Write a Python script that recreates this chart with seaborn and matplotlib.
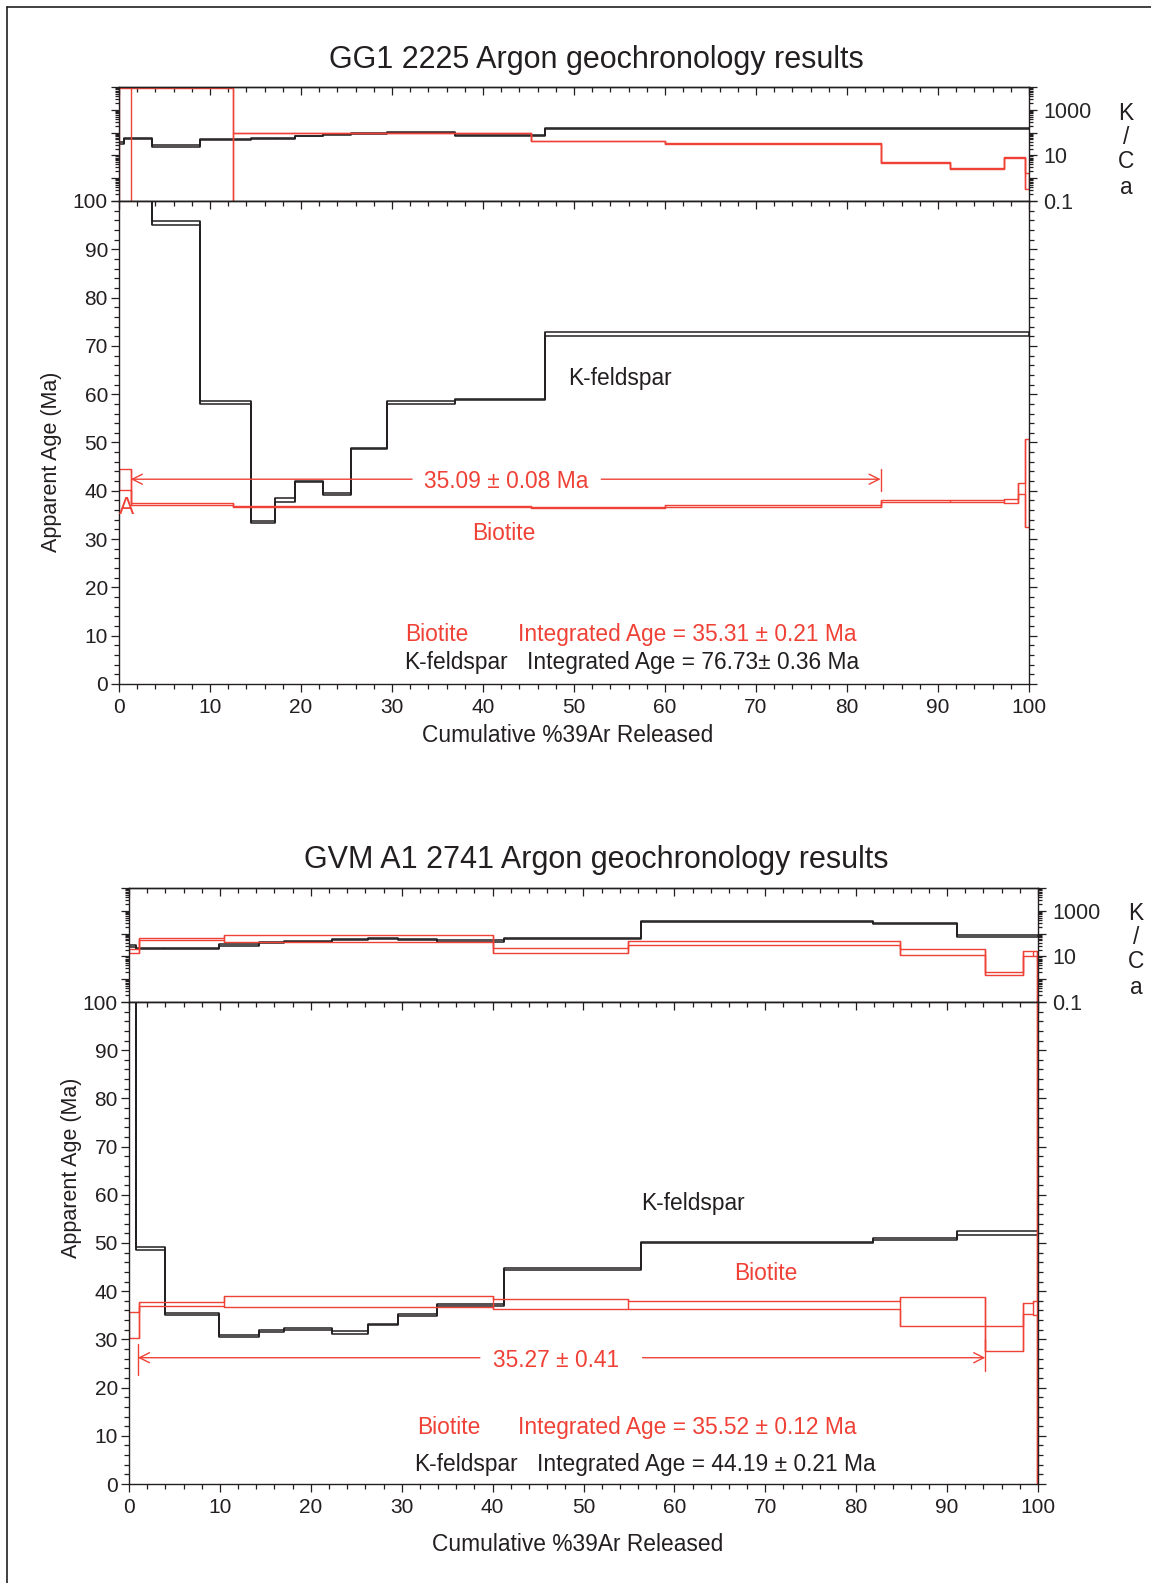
import numpy as np
import matplotlib
matplotlib.use('Agg')
import matplotlib.pyplot as plt
from matplotlib.lines import Line2D
from matplotlib.ticker import MultipleLocator, LogLocator, FuncFormatter, NullFormatter
import seaborn as sns

sns.set_style('white')
plt.rcParams['font.family'] = ['Liberation Sans', 'DejaVu Sans']

W, H = 1151, 1583
RED = '#EF4136'
BLACK = '#231F20'
FS = 16.4

# ---- GG1 2225 ----
kf1_edges = [0, 0.5, 3.6, 8.9, 14.5, 17.1, 19.3, 22.4, 25.5, 29.4, 36.9, 46.8, 100]
kf1_age = [130, 130, 95.5, 58.3, 33.55, 38.1, 41.9, 39.3, 48.8, 58.3, 58.85, 72.5]
kf1_err = [1, 1, 0.45, 0.35, 0.2, 0.4, 0.15, 0.15, 0.15, 0.3, 0.15, 0.45]
kf1_kca = [36, 55, 26, 50, 57, 57, 71, 84, 92, 98, 78, 152]
kf1_kca_err = [3, 3, 1.5, 2.5, 3, 3, 3.5, 4, 4, 4, 4, 6]

bt1_edges = [0, 1.3, 12.5, 45.3, 60.0, 83.7, 91.3, 97.2, 98.8, 99.6, 100]
bt1_age = [42.35, 37.25, 36.8, 36.5, 36.85, 37.85, 37.85, 37.9, 40.5, 41.6]
bt1_err = [2.15, 0.27, 0.15, 0.1, 0.15, 0.2, 0.2, 0.35, 1.2, 9.1]
bt1_kca = [4700, 4700, 98, 43, 33, 5.0, 2.6, 8.1, 8.1, 1.0]
bt1_kca_err = [4700, 4700, 3, 2, 1.5, 0.2, 0.1, 0.3, 0.3, 0.65]

# ---- GVM A1 2741 ----
kf2_edges = [0, 0.74, 4.0, 9.9, 14.3, 17.1, 22.3, 26.3, 29.6, 33.9, 41.2, 56.3, 81.9, 91.1, 100]
kf2_age = [130, 48.85, 35.25, 30.7, 31.8, 32.2, 31.45, 33.0, 35.1, 37.2, 44.55, 50.05, 50.9, 52.1]
kf2_err = [1, 0.35, 0.25, 0.2, 0.2, 0.17, 0.25, 0.1, 0.2, 0.2, 0.25, 0.15, 0.2, 0.4]
kf2_kca = [30, 23, 23, 32, 40, 44, 53, 63, 53, 48, 63, 338, 268, 79]
kf2_kca_err = [3, 1.5, 1.5, 2, 2, 2, 3, 4, 3, 3, 4, 15, 15, 5]

bt2_edges = [0, 1.07, 10.5, 40.0, 54.9, 84.8, 94.2, 98.3, 99.4, 99.85, 100]
bt2_age = [33.0, 37.35, 37.9, 37.35, 37.2, 35.7, 30.15, 36.4, 36.5, 40]
bt2_err = [2.7, 0.35, 1.2, 1.05, 0.8, 3.0, 2.55, 1.2, 1.5, 100]
bt2_kca = [17, 58, 66, 18, 40, 16, 1.85, 13.8, 13.8, 3]
bt2_kca_err = [3.5, 5, 21, 4.5, 8, 4.5, 0.25, 3.6, 3.6, 4]


def frac(l, t, r, b):
    return [l / W, 1 - b / H, (r - l) / W, (b - t) / H]


def spectrum(ax, edges, vals, errs, color, lw=1.0, log=False):
    vals = np.asarray(vals, float)
    errs = np.asarray(errs, float)
    lo, hi = vals - errs, vals + errs
    if log:
        lo = np.maximum(lo, 1e-4)
    x = np.asarray(edges, float)
    for y in (hi, lo):
        sns.lineplot(x=x, y=np.append(y, y[-1]), drawstyle='steps-post', color=color,
                     lw=lw, estimator=None, sort=False, ax=ax)
    # box edges: closed ends and full verticals between steps
    ymin = np.minimum(np.append(lo[0], lo), np.append(lo, lo[-1]))
    ymax = np.maximum(np.append(hi[0], hi), np.append(hi, hi[-1]))
    ax.vlines(x, ymin, ymax, color=color, lw=lw)


def style_common(ax):
    for s in ax.spines.values():
        s.set_linewidth(1.0)
        s.set_color(BLACK)
    ax.set_xlim(0, 100)
    sec = ax.secondary_xaxis('top')
    sec.xaxis.set_major_locator(MultipleLocator(10))
    sec.xaxis.set_minor_locator(MultipleLocator(2))
    sec.tick_params(which='both', direction='in', labeltop=False, width=0.9, color=BLACK)
    sec.tick_params(which='major', length=6)
    sec.tick_params(which='minor', length=3.5)
    sec.spines['top'].set_linewidth(1.0)


def age_axes(ax):
    style_common(ax)
    ax.set_ylim(0, 100)
    ax.xaxis.set_major_locator(MultipleLocator(10))
    ax.xaxis.set_minor_locator(MultipleLocator(2))
    ax.yaxis.set_major_locator(MultipleLocator(10))
    ax.yaxis.set_minor_locator(MultipleLocator(2))
    ax.tick_params(which='both', direction='out', left=True, right=True, bottom=True,
                   top=False, labelsize=15, width=0.9, color=BLACK, labelcolor=BLACK)
    ax.tick_params(axis='x', pad=4)
    ax.tick_params(axis='y', pad=2)
    ax.tick_params(which='major', length=6)
    ax.tick_params(which='minor', length=3.5)


def kca_axes(ax):
    style_common(ax)
    ax.set_yscale('log')
    ax.set_ylim(0.1, 1e4)
    ax.yaxis.set_major_locator(LogLocator(base=10, numticks=10))
    ax.yaxis.set_minor_locator(LogLocator(base=10, subs=np.arange(2, 10), numticks=20))
    ax.yaxis.set_major_formatter(FuncFormatter(
        lambda v, p: {0.1: '0.1', 10: '10', 1000: '1000'}.get(round(v, 3), '')))
    ax.yaxis.set_minor_formatter(NullFormatter())
    ax.tick_params(axis='y', which='both', direction='out', left=True, right=True,
                   labelleft=False, labelright=True, labelsize=15.5, width=0.9,
                   color=BLACK, pad=4)
    ax.tick_params(axis='y', which='major', length=6)
    ax.tick_params(axis='y', which='minor', length=3)
    ax.tick_params(axis='x', which='both', bottom=False, labelbottom=False)
    ax.set_xlabel('')
    ax.set_ylabel('')


fig = plt.figure(figsize=(W / 100, H / 100), dpi=100)

# frame lines
fig.add_artist(Line2D([7 / W, 1], [1 - 7 / H, 1 - 7 / H], color=BLACK, lw=1.2))
fig.add_artist(Line2D([7 / W, 7 / W], [0, 1 - 7 / H], color=BLACK, lw=1.2))

panels = [
    dict(title='GG1 2225 Argon geochronology results', ty=60,
         l=119, r=1029, t=87, m=201, b=684, kx=1126, ky=[113, 137, 161.5, 187],
         kf=(kf1_edges, kf1_age, kf1_err, kf1_kca, kf1_kca_err),
         bt=(bt1_edges, bt1_age, bt1_err, bt1_kca, bt1_kca_err),
         ylab=(-0.063, 0.46), xlab=(0.493, -0.082)),
    dict(title='GVM A1 2741 Argon geochronology results', ty=860,
         l=129, r=1038, t=888, m=1002, b=1484, kx=1136, ky=[914, 938, 962, 987],
         kf=(kf2_edges, kf2_age, kf2_err, kf2_kca, kf2_kca_err),
         bt=(bt2_edges, bt2_age, bt2_err, bt2_kca, bt2_kca_err),
         ylab=(-0.052, 0.655), xlab=(0.493, -0.102)),
]

axes = []
for p in panels:
    ax_k = fig.add_axes(frac(p['l'], p['t'], p['r'], p['m']))
    ax_a = fig.add_axes(frac(p['l'], p['m'], p['r'], p['b']))
    e, a, er, k, ke = p['kf']
    spectrum(ax_a, e, a, er, BLACK, lw=1.1)
    spectrum(ax_k, e, k, ke, BLACK, lw=1.1, log=True)
    e, a, er, k, ke = p['bt']
    spectrum(ax_a, e, a, er, RED, lw=1.0)
    spectrum(ax_k, e, k, ke, RED, lw=1.0, log=True)
    age_axes(ax_a)
    kca_axes(ax_k)
    ax_a.set_ylabel('Apparent Age (Ma)', fontsize=15.5, color=BLACK)
    ax_a.yaxis.set_label_coords(*p['ylab'])
    ax_a.set_xlabel('Cumulative %39Ar Released', fontsize=FS, color=BLACK)
    ax_a.xaxis.set_label_coords(*p['xlab'])
    fig.text(596 / W, 1 - p['ty'] / H, p['title'], ha='center', va='center',
             fontsize=22, color=BLACK)
    for letter, y in zip(['K', '/', 'C', 'a'], p['ky']):
        fig.text(p['kx'] / W, 1 - y / H, letter, ha='center', va='center',
                 fontsize=FS, color=BLACK)
    axes.append(ax_a)

arrow = dict(arrowstyle='->', color=RED, lw=1.0, shrinkA=0, shrinkB=0, mutation_scale=18)

# panel 1 annotations
ax = axes[0]
ax.annotate('', xy=(1.3, 42.4), xytext=(32.2, 42.4), arrowprops=arrow)
ax.annotate('', xy=(83.7, 42.4), xytext=(53.0, 42.4), arrowprops=arrow)
ax.plot([83.7, 83.7], [40.0, 44.5], color=RED, lw=1.0)
ax.text(42.6, 42.0, '35.09 \u00b1 0.08 Ma', color=RED, fontsize=FS, ha='center', va='center')
ax.text(0.8, 36.6, 'A', color=RED, fontsize=FS, ha='center', va='center')
ax.text(55.1, 63.3, 'K-feldspar', color=BLACK, fontsize=FS, ha='center', va='center')
ax.text(42.3, 31.1, 'Biotite', color=RED, fontsize=FS, ha='center', va='center')
ax.text(31.4, 10.2, 'Biotite', color=RED, fontsize=FS, ha='left', va='center')
ax.text(43.8, 10.2, 'Integrated Age = 35.31 \u00b1 0.21 Ma', color=RED, fontsize=FS,
        ha='left', va='center')
ax.text(31.3, 4.35, 'K-feldspar', color=BLACK, fontsize=FS, ha='left', va='center')
ax.text(44.8, 4.35, 'Integrated Age = 76.73\u00b1 0.36 Ma', color=BLACK, fontsize=FS,
        ha='left', va='center')

# panel 2 annotations
ax = axes[1]
ax.annotate('', xy=(0.98, 26.2), xytext=(38.6, 26.2), arrowprops=arrow)
ax.annotate('', xy=(94.2, 26.2), xytext=(56.5, 26.2), arrowprops=arrow)
ax.plot([0.98, 0.98], [22.6, 29.0], color=RED, lw=1.0)
ax.plot([94.2, 94.2], [23.5, 30.0], color=RED, lw=1.0)
ax.text(47.0, 25.6, '35.27 \u00b1 0.41', color=RED, fontsize=FS, ha='center', va='center')
ax.text(62.0, 58.2, 'K-feldspar', color=BLACK, fontsize=FS, ha='center', va='center')
ax.text(70.1, 43.7, 'Biotite', color=RED, fontsize=FS, ha='center', va='center')
ax.text(31.7, 11.65, 'Biotite', color=RED, fontsize=FS, ha='left', va='center')
ax.text(42.8, 11.65, 'Integrated Age = 35.52 \u00b1 0.12 Ma', color=RED, fontsize=FS,
        ha='left', va='center')
ax.text(31.4, 4.1, 'K-feldspar', color=BLACK, fontsize=FS, ha='left', va='center')
ax.text(44.9, 4.1, 'Integrated Age = 44.19 \u00b1 0.21 Ma', color=BLACK, fontsize=FS,
        ha='left', va='center')

fig.savefig('out.png', dpi=100)
